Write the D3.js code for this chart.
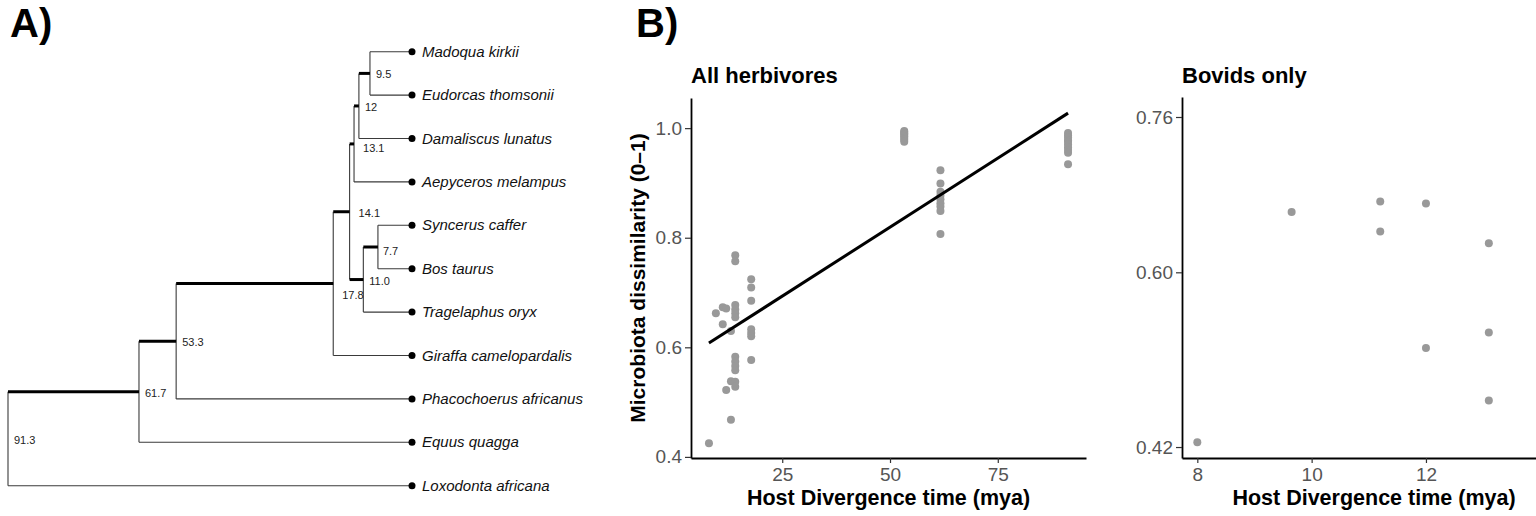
<!DOCTYPE html>
<html>
<head>
<meta charset="utf-8">
<style>
  body { margin: 0; background: #fff; }
  svg { display: block; font-family: "Liberation Sans", Arial, Helvetica, sans-serif; }
</style>
</head>
<body>
<svg></svg>
<script src="https://cdnjs.cloudflare.com/ajax/libs/d3/7.8.5/d3.min.js"></script>
<script>

// ---- A) time tree ----
// tips, top to bottom
const tipNames = ["Madoqua kirkii", "Eudorcas thomsonii", "Damaliscus lunatus", "Aepyceros melampus",
  "Syncerus caffer", "Bos taurus", "Tragelaphus oryx", "Giraffa camelopardalis",
  "Phacochoerus africanus", "Equus quagga", "Loxodonta africana"];
// internal nodes: divergence age (mya), label and the two children
const nodeAges = [9.5, 12, 13.1, 7.7, 11.0, 14.1, 17.8, 53.3, 61.7, 91.3];
const nodeLabels = ["9.5", "12", "13.1", "7.7", "11.0", "14.1", "17.8", "53.3", "61.7", "91.3"];
const nodeChildren = [
  ["Madoqua kirkii", "Eudorcas thomsonii"],
  ["9.5", "Damaliscus lunatus"],
  ["12", "Aepyceros melampus"],
  ["Syncerus caffer", "Bos taurus"],
  ["7.7", "Tragelaphus oryx"],
  ["13.1", "11.0"],
  ["14.1", "Giraffa camelopardalis"],
  ["17.8", "Phacochoerus africanus"],
  ["53.3", "Equus quagga"],
  ["61.7", "Loxodonta africana"]
];

// ---- B) all herbivores ----
const allTime = [8.0, 9.6, 11.2, 11.2, 12.0, 12.0, 13.1, 13.1, 13.1,
  14.1, 14.1, 14.1, 14.1, 14.1, 14.1, 14.1, 14.1, 14.1, 14.1, 14.1, 14.1,
  17.8, 17.8, 17.8, 17.8, 17.8, 17.8, 17.8,
  53.3, 53.3, 53.3, 53.3, 53.3, 53.3, 53.3, 53.3,
  61.7, 61.7, 61.7, 61.7, 61.7, 61.7, 61.7, 61.7, 61.7,
  91.3, 91.3, 91.3, 91.3, 91.3, 91.3, 91.3, 91.3, 91.3, 91.3];
const allDiss = [0.425, 0.662, 0.673, 0.642, 0.671, 0.522, 0.630, 0.538, 0.468,
  0.768, 0.757, 0.677, 0.669, 0.662, 0.655, 0.583, 0.574, 0.566, 0.558, 0.537, 0.528,
  0.724, 0.709, 0.685, 0.633, 0.626, 0.620, 0.577,
  0.995, 0.993, 0.990, 0.988, 0.985, 0.982, 0.979, 0.975,
  0.923, 0.899, 0.884, 0.877, 0.870, 0.863, 0.857, 0.849, 0.807,
  0.991, 0.987, 0.983, 0.978, 0.975, 0.970, 0.965, 0.960, 0.955, 0.934];
const allXTicks = [25, 50, 75];
const allYTicks = [0.4, 0.6, 0.8, 1.0];

// ---- B) bovids only ----
const bovTime = [8.0, 9.65, 11.2, 11.2, 12.0, 12.0, 13.1, 13.1, 13.1];
const bovDiss = [0.425, 0.662, 0.673, 0.642, 0.671, 0.522, 0.630, 0.538, 0.468];
const bovXTicks = [8, 10, 12];
const bovYTicks = [0.42, 0.60, 0.76];

const width = 1536, height = 516;
const svg = d3.select("svg").attr("width", width).attr("height", height);

// panel letters
svg.append("text").attr("x", 10).attr("y", 37).attr("font-size", 40).attr("font-weight", "bold").text("A)");
svg.append("text").attr("x", 636).attr("y", 37).attr("font-size", 40).attr("font-weight", "bold").text("B)");

drawTree();
drawPanel({
  xs: allTime, ys: allDiss, title: "All herbivores",
  xDomain: [3.835, 95.465], xRange: [691, 1086], xTicks: allXTicks, xFmt: d3.format("d"),
  yDomain: [0.398, 1.055], yRange: [458, 98], yTicks: allYTicks, yFmt: d3.format(".1f"),
  yTitle: "Microbiota dissimilarity (0\u20131)", fit: true
});
drawPanel({
  xs: bovTime, ys: bovDiss, title: "Bovids only",
  xDomain: [7.732, 14.45], xRange: [1182, 1566], xTicks: bovXTicks, xFmt: d3.format("d"),
  yDomain: [0.4087, 0.7806], yRange: [458, 97], yTicks: bovYTicks, yFmt: d3.format(".2f"),
  fit: false
});

function drawTree() {
  function build(name) {
    const i = nodeLabels.indexOf(name);
    if (i < 0) return { name: name, age: 0 };
    return { name: name, age: nodeAges[i], label: nodeLabels[i], children: nodeChildren[i].map(build) };
  }
  const root = d3.hierarchy(build("91.3"));

  const xAge = d3.scaleLinear().domain([91.3, 0]).range([8, 412]);
  const yTip = d3.scalePoint().domain(tipNames).range([51.7, 485.7]);

  // tips get their row, internal nodes sit midway between their children
  root.eachAfter(n => {
    n.px = xAge(n.data.age);
    n.py = n.children ? d3.mean(n.children, c => c.py) : yTip(n.data.name);
  });

  const g = svg.append("g");
  const nodes = root.descendants();

  // vertical connectors
  g.selectAll(".vline").data(nodes.filter(n => n.children)).enter().append("line")
    .attr("x1", n => n.px).attr("x2", n => n.px)
    .attr("y1", n => d3.min(n.children, c => c.py))
    .attr("y2", n => d3.max(n.children, c => c.py))
    .attr("stroke", "#3a3a3a").attr("stroke-width", 1.1);

  // horizontal branches, internal ones drawn thick
  g.selectAll(".hline").data(nodes.filter(n => n.parent)).enter().append("line")
    .attr("x1", n => n.parent.px).attr("x2", n => n.px)
    .attr("y1", n => n.py).attr("y2", n => n.py)
    .attr("stroke", n => n.children ? "#000" : "#3a3a3a")
    .attr("stroke-width", n => n.children ? 3 : 1.1);

  const leaves = root.leaves();
  g.selectAll(".tip").data(leaves).enter().append("circle")
    .attr("cx", n => n.px).attr("cy", n => n.py).attr("r", 3.5).attr("fill", "#000");

  g.selectAll(".tiplab").data(leaves).enter().append("text")
    .attr("x", n => n.px + 10).attr("y", n => n.py + 5)
    .attr("font-size", 15).attr("font-style", "italic").attr("fill", "#111")
    .text(n => n.data.name);

  // a few labels are shifted to keep them off the branches
  const nudge = { "17.8": [3, 10], "13.1": [3, 3], "14.1": [3, 0], "7.7": [-1, 3] };
  g.selectAll(".nodelab").data(nodes.filter(n => n.children)).enter().append("text")
    .attr("x", n => n.px + 6 + (nudge[n.data.label] || [0, 0])[0])
    .attr("y", n => n.py + 1 + (nudge[n.data.label] || [0, 0])[1])
    .attr("dominant-baseline", "central")
    .attr("font-size", 11).attr("fill", "#222")
    .text(n => n.data.label);
}

function drawPanel(o) {
  const x = d3.scaleLinear().domain(o.xDomain).range(o.xRange);
  const y = d3.scaleLinear().domain(o.yDomain).range(o.yRange);
  const g = svg.append("g");

  const xAxis = g.append("g").attr("transform", `translate(0,${o.yRange[0]})`)
    .call(d3.axisBottom(x).tickValues(o.xTicks).tickFormat(o.xFmt).tickSize(5).tickSizeOuter(0).tickPadding(5));
  const yAxis = g.append("g").attr("transform", `translate(${o.xRange[0]},0)`)
    .call(d3.axisLeft(y).tickValues(o.yTicks).tickFormat(o.yFmt).tickSize(6).tickSizeOuter(0).tickPadding(3));

  [xAxis, yAxis].forEach(a => {
    a.select(".domain").attr("stroke", "#000").attr("stroke-width", 1.8);
    a.selectAll(".tick line").attr("stroke", "#333").attr("stroke-width", 1.2);
    a.selectAll(".tick text").attr("fill", "#555").attr("font-size", 19)
      .attr("font-family", "'Liberation Sans', Arial, Helvetica, sans-serif");
  });

  g.selectAll(".pt").data(o.xs.map((v, i) => [v, o.ys[i]])).enter().append("circle")
    .attr("cx", d => x(d[0])).attr("cy", d => y(d[1])).attr("r", 4).attr("fill", "#999");

  if (o.fit) {
    // least-squares line over the data range
    const mx = d3.mean(o.xs), my = d3.mean(o.ys);
    const sxy = d3.sum(o.xs, (v, i) => (v - mx) * (o.ys[i] - my));
    const sxx = d3.sum(o.xs, v => (v - mx) * (v - mx));
    const b = sxy / sxx, a0 = my - b * mx;
    const ext = d3.extent(o.xs);
    g.append("path")
      .datum(ext.map(v => [v, a0 + b * v]))
      .attr("d", d3.line().x(d => x(d[0])).y(d => y(d[1])))
      .attr("stroke", "#000").attr("stroke-width", 3).attr("fill", "none");
  }

  g.append("text").attr("x", o.xRange[0]).attr("y", 83)
    .attr("font-size", 22).attr("font-weight", "bold").text(o.title);

  g.append("text").attr("x", (o.xRange[0] + o.xRange[1]) / 2).attr("y", 505)
    .attr("text-anchor", "middle").attr("font-size", 21.5).attr("font-weight", "bold")
    .text("Host Divergence time (mya)");

  if (o.yTitle) {
    g.append("text")
      .attr("transform", `translate(645,${(o.yRange[0] + o.yRange[1]) / 2}) rotate(-90)`)
      .attr("text-anchor", "middle").attr("font-size", 21).attr("font-weight", "bold")
      .text(o.yTitle);
  }
}
</script>
</body>
</html>
